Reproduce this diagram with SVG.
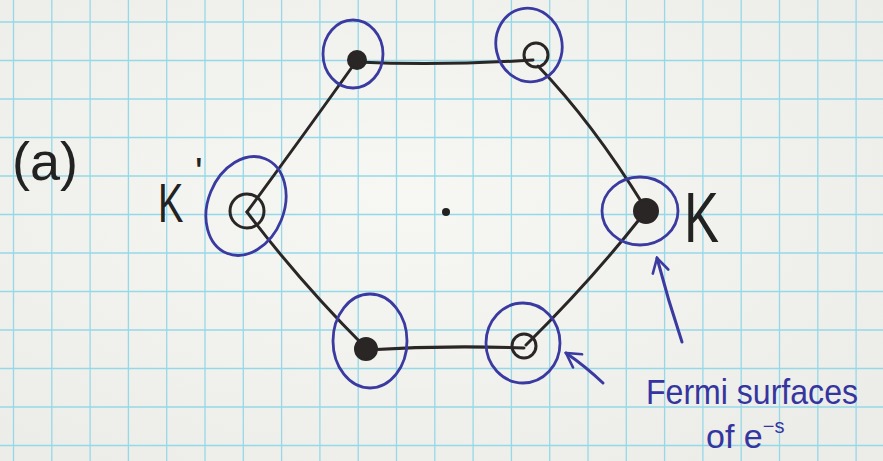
<svg xmlns="http://www.w3.org/2000/svg" width="883" height="461" viewBox="0 0 883 461">
<defs>
<style>
.grid line{stroke:#95d9e8;stroke-width:1.3}
.edge{fill:none;stroke:#2a2626;stroke-width:3;stroke-linecap:round}
.fs{fill:none;stroke:#3a3aa0;stroke-width:2.8}
.open{fill:none;stroke:#2a2626;stroke-width:3}
.full{fill:#2a2626;stroke:#2a2626;stroke-width:2}
.ink{font-family:"Liberation Sans",Arial,sans-serif;fill:#222}
.blue{font-family:"Liberation Sans",Arial,sans-serif;fill:#3535a0}
.arr{fill:none;stroke:#3a3aa0;stroke-width:3;stroke-linecap:round}
</style>
<marker id="ah" viewBox="0 0 20 20" refX="18" refY="10" markerWidth="20" markerHeight="20" markerUnits="userSpaceOnUse" orient="auto">
<path d="M4,2 L18,10 L4,18" fill="none" stroke="#3a3aa0" stroke-width="2.6" stroke-linecap="round"/>
</marker>
<radialGradient id="paper" cx="0.45" cy="0.42" r="0.7">
<stop offset="0" stop-color="#f7f7f4"/>
<stop offset="1" stop-color="#ececE8"/>
</radialGradient>
</defs>
<rect width="883" height="461" fill="url(#paper)"/>
<g class="grid">
<line x1="13.5" y1="0" x2="13.5" y2="461"/><line x1="51.8" y1="0" x2="51.8" y2="461"/><line x1="90.1" y1="0" x2="90.1" y2="461"/><line x1="128.4" y1="0" x2="128.4" y2="461"/><line x1="166.7" y1="0" x2="166.7" y2="461"/><line x1="205" y1="0" x2="205" y2="461"/><line x1="243.3" y1="0" x2="243.3" y2="461"/><line x1="281.6" y1="0" x2="281.6" y2="461"/><line x1="319.9" y1="0" x2="319.9" y2="461"/><line x1="358.2" y1="0" x2="358.2" y2="461"/><line x1="396.5" y1="0" x2="396.5" y2="461"/><line x1="434.8" y1="0" x2="434.8" y2="461"/><line x1="473.1" y1="0" x2="473.1" y2="461"/><line x1="511.4" y1="0" x2="511.4" y2="461"/><line x1="549.7" y1="0" x2="549.7" y2="461"/><line x1="588" y1="0" x2="588" y2="461"/><line x1="626.3" y1="0" x2="626.3" y2="461"/><line x1="664.6" y1="0" x2="664.6" y2="461"/><line x1="702.9" y1="0" x2="702.9" y2="461"/><line x1="741.2" y1="0" x2="741.2" y2="461"/><line x1="779.5" y1="0" x2="779.5" y2="461"/><line x1="817.8" y1="0" x2="817.8" y2="461"/><line x1="856.1" y1="0" x2="856.1" y2="461"/>
<line x1="0" y1="22" x2="883" y2="22"/><line x1="0" y1="60.5" x2="883" y2="60.5"/><line x1="0" y1="99" x2="883" y2="99"/><line x1="0" y1="137.5" x2="883" y2="137.5"/><line x1="0" y1="176" x2="883" y2="176"/><line x1="0" y1="214.5" x2="883" y2="214.5"/><line x1="0" y1="253" x2="883" y2="253"/><line x1="0" y1="291.5" x2="883" y2="291.5"/><line x1="0" y1="330" x2="883" y2="330"/><line x1="0" y1="368.5" x2="883" y2="368.5"/><line x1="0" y1="407" x2="883" y2="407"/><line x1="0" y1="445.5" x2="883" y2="445.5"/>
</g>
<g id="connectors">
<path class="edge" d="M357,62 Q440,66 533,60"/>
<path class="edge" d="M538,66 Q592,122 644,206"/>
<path class="edge" d="M642,216 Q590,282 526,345"/>
<path class="edge" d="M524,348 Q445,345 366,350"/>
<path class="edge" d="M364,346 Q300,282 247,212"/>
<path class="edge" d="M247,212 Q300,140 355,63"/>
<path class="arr" d="M682,342 Q668,300 657,258" marker-end="url(#ah)"/>
<path class="arr" d="M603,383 Q585,366 566,353" marker-end="url(#ah)"/>
</g>
<g id="center"><circle cx="446" cy="212" r="4" fill="#222"/></g>
<g id="node-tl">
<ellipse class="fs" cx="353" cy="54" rx="30" ry="34"/>
<circle class="full" cx="357" cy="60" r="9"/>
</g>
<g id="node-tr">
<ellipse class="fs" cx="529" cy="45" rx="33" ry="37" transform="rotate(-12 529 45)"/>
<circle class="open" cx="536" cy="55" r="12"/>
</g>
<g id="node-kp">
<ellipse class="fs" cx="246" cy="206" rx="38" ry="51" transform="rotate(22 246 206)"/>
<circle class="open" cx="247" cy="211" r="17"/>
</g>
<g id="node-k">
<ellipse class="fs" cx="640" cy="211" rx="38" ry="34"/>
<circle class="full" cx="646" cy="211" r="12"/>
</g>
<g id="node-bl">
<ellipse class="fs" cx="370" cy="341" rx="37" ry="47"/>
<circle class="full" cx="366" cy="349" r="11"/>
</g>
<g id="node-br">
<ellipse class="fs" cx="523" cy="343" rx="37" ry="40"/>
<circle class="open" cx="524" cy="346" r="12"/>
</g>
<g id="labels">
<text class="ink" x="12" y="180" font-size="54">(a)</text>
<text class="ink" font-size="56" transform="translate(158 222) scale(0.68 1)">K</text>
<text class="ink" x="195" y="186" font-size="40">'</text>
<text class="ink" font-size="70" transform="translate(684 242) scale(0.75 1)">K</text>
<text class="blue" x="646" y="404" font-size="35" textLength="212" lengthAdjust="spacingAndGlyphs">Fermi surfaces</text>
<text class="blue" x="706" y="448" font-size="34">of  e<tspan font-size="20" dy="-15">−s</tspan></text>
</g>
</svg>
